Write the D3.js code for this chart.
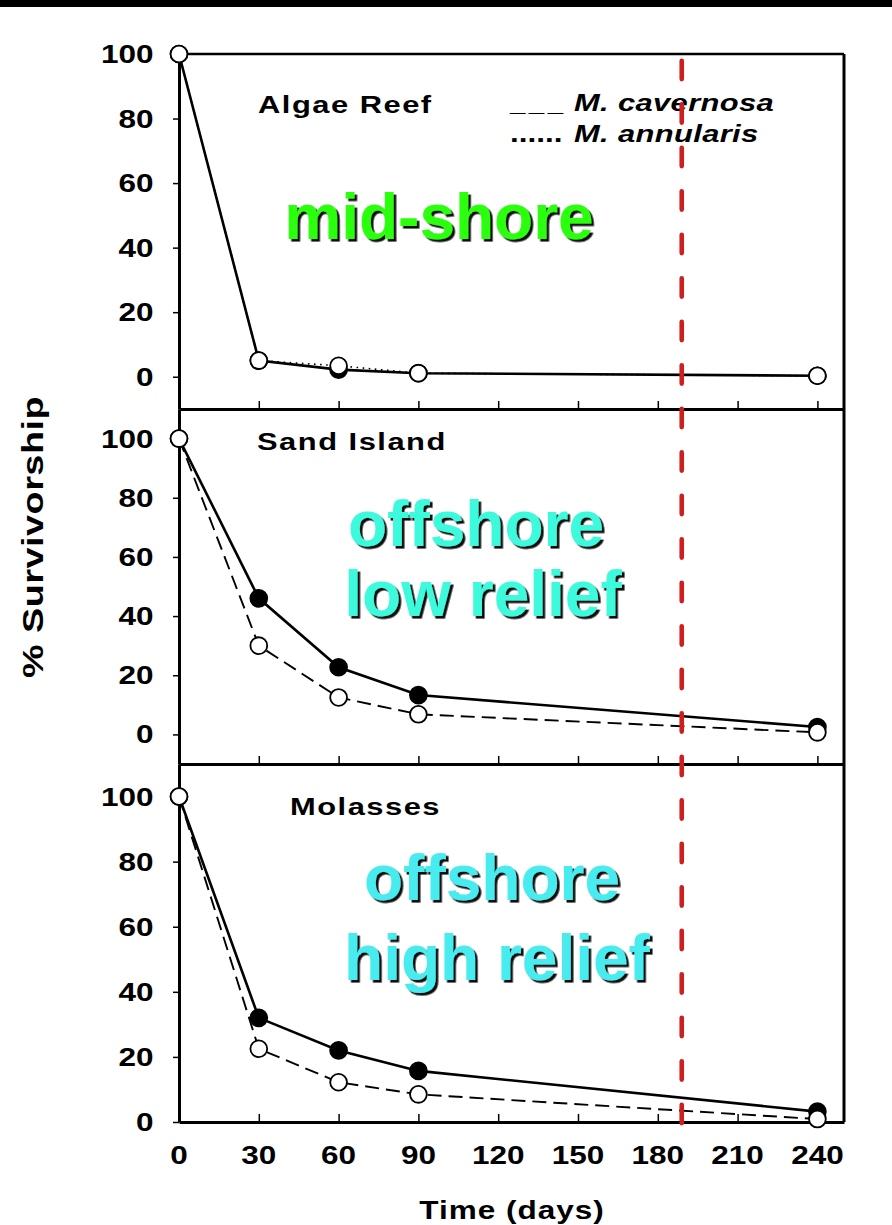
<!DOCTYPE html>
<html>
<head>
<meta charset="utf-8">
<script src="https://cdn.jsdelivr.net/npm/d3@7/dist/d3.min.js"></script>
<style>
  html, body { margin: 0; padding: 0; background: #fff; }
  svg { display: block; }
  text { font-family: "Liberation Sans", Arial, Helvetica, sans-serif; }
</style>
</head>
<body>
<svg id="chart" width="892" height="1225"></svg>
<script>
// Sampling days
const days = [0, 30, 60, 90, 240];

// % survivorship per site, Montastraea cavernosa (solid, filled) and M. annularis (broken, open)
const algaeCavernosa    = [100, 5, 2.2, 1.1, 0.3];
const algaeAnnularis    = [100, 5, 3.4, 1.1, 0.3];
const sandCavernosa     = [100, 46, 22.7, 13.3, 2.5];
const sandAnnularis     = [100, 30, 12.5, 6.8, 0.7];
const molassesCavernosa = [100, 32, 22, 15.7, 3.2];
const molassesAnnularis = [100, 22.5, 12.2, 8.5, 0.9];

const siteNames  = ["Algae Reef", "Sand Island", "Molasses"];
const zoneLabels = [["mid-shore"], ["offshore", "low relief"], ["offshore", "high relief"]];
const yTicks = [0, 20, 40, 60, 80, 100];
const xTicks = [0, 30, 60, 90, 120, 150, 180, 210, 240];
const cutoffDay = 189;

const legendItems = [
  { mark: "___",    name: "M. cavernosa" },
  { mark: "......", name: "M. annularis" }
];

const cavSeries = [algaeCavernosa, sandCavernosa, molassesCavernosa];
const annSeries = [algaeAnnularis, sandAnnularis, molassesAnnularis];

// ---- layout ----
const svg = d3.select("#chart");
const left = 179, right = 844;
const SX = 1.26; // horizontal stretch applied to the axis lettering

const x = d3.scaleLinear().domain([0, 250]).range([left, right]);

const panels = [
  { top: 54,  bottom: 409,  domain: [-10, 100], zoneColor: "#2cff0c", zoneCx: [439], zoneBase: [239] },
  { top: 409, bottom: 764,  domain: [-10, 110], zoneColor: "#3cfadc", zoneCx: [476, 483], zoneBase: [546, 616] },
  { top: 764, bottom: 1122, domain: [0, 110],   zoneColor: "#48ecee", zoneCx: [492, 497], zoneBase: [900, 980] }
];
const titlePos = [[258, 113], [257, 450], [290, 815]];

// hard drop shadow for the zone labels
const defs = svg.append("defs");
defs.append("filter").attr("id", "shadow")
  .attr("x", "-5%").attr("y", "-10%").attr("width", "115%").attr("height", "130%")
  .append("feDropShadow")
  .attr("dx", 2.6).attr("dy", 2.6).attr("stdDeviation", 0.3)
  .attr("flood-color", "#111").attr("flood-opacity", 1);

svg.append("rect").attr("x", 0).attr("y", 0).attr("width", 892).attr("height", 7).attr("fill", "#000");

function stretched(g, str, tx, ty, size, anchor, extra) {
  const t = g.append("text")
    .attr("transform", `translate(${tx},${ty}) scale(${SX},1)`)
    .attr("text-anchor", anchor || "start")
    .attr("font-size", size)
    .attr("font-weight", "bold")
    .attr("fill", "#000")
    .text(str);
  if (extra) extra(t);
  return t;
}

const line = (y) => d3.line().x((d, i) => x(days[i])).y(d => y(d));

panels.forEach((p, pi) => {
  const y = d3.scaleLinear().domain(p.domain).range([p.bottom, p.top]);
  const g = svg.append("g");

  // zone label
  zoneLabels[pi].forEach((lab, li) => {
    g.append("text")
      .attr("x", p.zoneCx[li]).attr("y", p.zoneBase[li])
      .attr("text-anchor", "middle")
      .attr("font-size", 64).attr("font-weight", "bold")
      .attr("fill", p.zoneColor).attr("filter", "url(#shadow)").text(lab);
  });

  // y axis
  const ya = g.append("g").attr("transform", `translate(${left},0)`)
    .call(d3.axisLeft(y).tickValues(yTicks).tickSizeInner(6).tickSizeOuter(0).tickFormat(""));
  ya.select(".domain").attr("stroke-width", 3);
  ya.selectAll(".tick line").attr("stroke-width", 1.5);

  yTicks.forEach(v => stretched(g, String(v), 153.5, y(v), 25, "end", t => t.attr("dy", "0.36em")));

  // x axis (ticks point inward)
  const xa = g.append("g").attr("transform", `translate(0,${p.bottom})`)
    .call(d3.axisBottom(x).tickValues(xTicks.slice(1)).tickSizeInner(-8).tickSizeOuter(0).tickFormat(""));
  xa.select(".domain").attr("stroke-width", 3.2);
  xa.selectAll(".tick line").attr("stroke-width", 1.5);

  // frame: right edge, top edge of first panel
  g.append("line").attr("x1", right).attr("x2", right).attr("y1", p.top).attr("y2", p.bottom)
    .attr("stroke", "#000").attr("stroke-width", 3);
  if (pi === 0) {
    g.append("line").attr("x1", left).attr("x2", right).attr("y1", p.top).attr("y2", p.top)
      .attr("stroke", "#000").attr("stroke-width", 2.5);
  }

  // site title
  stretched(g, siteNames[pi], titlePos[pi][0], titlePos[pi][1], 24.5, "start",
    t => t.attr("letter-spacing", 1.2));

  // series lines
  g.append("path").datum(annSeries[pi]).attr("d", line(y))
    .attr("fill", "none").attr("stroke", "#000")
    .attr("stroke-width", pi === 0 ? 1.6 : 1.9)
    .attr("stroke-dasharray", pi === 0 ? "1.6 4.5" : "14 7");
  g.append("path").datum(cavSeries[pi]).attr("d", line(y))
    .attr("fill", "none").attr("stroke", "#000").attr("stroke-width", 2.6);

  // markers: filled first, open on top
  g.selectAll(".cav").data(cavSeries[pi]).join("circle")
    .attr("cx", (d, i) => x(days[i])).attr("cy", d => y(d)).attr("r", 8.6)
    .attr("fill", "#000").attr("stroke", "#000").attr("stroke-width", 1.5);
  g.selectAll(".ann").data(annSeries[pi]).join("circle")
    .attr("cx", (d, i) => x(days[i])).attr("cy", d => y(d)).attr("r", 8.4)
    .attr("fill", "#fff").attr("stroke", "#000").attr("stroke-width", 1.8);

  p.y = y;
});

// legend
legendItems.forEach((it, i) => {
  const by = 111 + i * 31;
  stretched(svg, it.mark, 510, by, i === 0 ? 22 : 25, "start",
    t => t.attr("letter-spacing", i === 0 ? 2.7 : 0));
  stretched(svg, it.name, 574, by, 24.5, "start", t => t.attr("font-style", "italic").attr("letter-spacing", 0.3));
});

// x tick labels under the bottom panel
xTicks.forEach(v => stretched(svg, String(v), x(v), 1164, 25, "middle"));

// axis titles
svg.append("text")
  .attr("transform", `translate(512,1219) scale(${SX},1)`)
  .attr("text-anchor", "middle").attr("font-size", 25).attr("font-weight", "bold")
  .attr("letter-spacing", 0.8).text("Time (days)");
svg.append("text")
  .attr("transform", `translate(43,537) rotate(-90) scale(${SX},1)`)
  .attr("text-anchor", "middle").attr("font-size", 30).attr("font-weight", "bold")
  .attr("letter-spacing", 0.4).text("% Survivorship");

// cutoff marker across all three panels
svg.append("line")
  .attr("x1", x(cutoffDay)).attr("x2", x(cutoffDay))
  .attr("y1", panels[0].y(100) + 6.7).attr("y2", panels[2].y(0) + 1.5)
  .attr("stroke", "#cc1f1f").attr("stroke-width", 4.6)
  .attr("stroke-linecap", "round").attr("stroke-dasharray", "18.4 25.1");
</script>
</body>
</html>
